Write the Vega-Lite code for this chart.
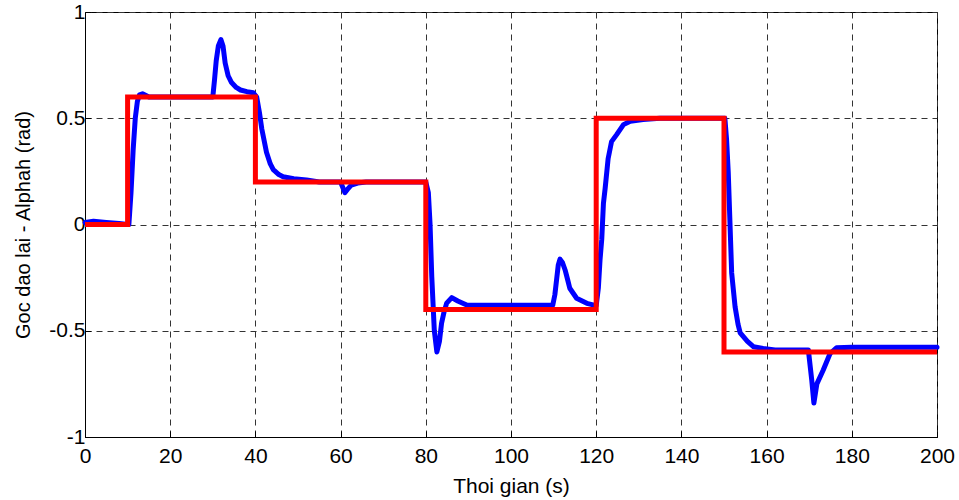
{
  "$schema": "https://vega.github.io/schema/vega-lite/v6.json",
  "autosize": {"type": "none"},
  "padding": {"left": 85, "top": 12, "right": 22, "bottom": 63},
  "width": 852,
  "height": 425,
  "background": "white",
  "config": {
    "view": {"stroke": "black", "strokeWidth": 1},
    "font": "Liberation Sans"
  },
  "datasets": {
    "response": [
      {"t": 0, "v": 0.01}, {"t": 2, "v": 0.015}, {"t": 5, "v": 0.01}, {"t": 8, "v": 0.005},
      {"t": 10, "v": 0.0}, {"t": 10.3, "v": 0.0}, {"t": 10.8, "v": 0.15}, {"t": 11.3, "v": 0.35},
      {"t": 11.8, "v": 0.5}, {"t": 12.3, "v": 0.58}, {"t": 12.8, "v": 0.61}, {"t": 13.5, "v": 0.615},
      {"t": 15, "v": 0.6}, {"t": 20, "v": 0.6}, {"t": 30, "v": 0.6}, {"t": 30.4, "v": 0.68},
      {"t": 30.8, "v": 0.77}, {"t": 31.3, "v": 0.84}, {"t": 31.9, "v": 0.87}, {"t": 32.4, "v": 0.84},
      {"t": 32.9, "v": 0.76}, {"t": 33.6, "v": 0.7}, {"t": 34.4, "v": 0.668}, {"t": 35.5, "v": 0.645},
      {"t": 36.5, "v": 0.633}, {"t": 38, "v": 0.625}, {"t": 39.5, "v": 0.62}, {"t": 40.3, "v": 0.6},
      {"t": 41, "v": 0.52}, {"t": 41.5, "v": 0.45}, {"t": 42.6, "v": 0.34}, {"t": 43.5, "v": 0.285},
      {"t": 44.2, "v": 0.258}, {"t": 45.5, "v": 0.235}, {"t": 46.5, "v": 0.225}, {"t": 49, "v": 0.215},
      {"t": 52, "v": 0.21}, {"t": 55, "v": 0.2}, {"t": 60, "v": 0.2}, {"t": 60.5, "v": 0.175},
      {"t": 61, "v": 0.15}, {"t": 61.6, "v": 0.165}, {"t": 62.5, "v": 0.185}, {"t": 64, "v": 0.195},
      {"t": 66, "v": 0.2}, {"t": 80, "v": 0.2}, {"t": 80.6, "v": 0.15}, {"t": 81.0, "v": 0.0},
      {"t": 81.4, "v": -0.245}, {"t": 82.0, "v": -0.5}, {"t": 82.6, "v": -0.6}, {"t": 83.2, "v": -0.55},
      {"t": 83.7, "v": -0.465}, {"t": 84.3, "v": -0.41}, {"t": 84.9, "v": -0.37}, {"t": 86.1, "v": -0.344},
      {"t": 87.5, "v": -0.36}, {"t": 89.6, "v": -0.379}, {"t": 95, "v": -0.38}, {"t": 109.8, "v": -0.38},
      {"t": 110.3, "v": -0.33}, {"t": 110.7, "v": -0.26}, {"t": 111.1, "v": -0.19}, {"t": 111.5, "v": -0.163},
      {"t": 112.1, "v": -0.18}, {"t": 112.7, "v": -0.214}, {"t": 113.3, "v": -0.26}, {"t": 113.8, "v": -0.3},
      {"t": 115.4, "v": -0.347}, {"t": 117.8, "v": -0.371}, {"t": 120, "v": -0.382}, {"t": 120.5, "v": -0.3},
      {"t": 120.9, "v": -0.166}, {"t": 121.3, "v": -0.07}, {"t": 121.7, "v": 0.1}, {"t": 122.1, "v": 0.17},
      {"t": 122.8, "v": 0.31}, {"t": 123.6, "v": 0.39}, {"t": 124.8, "v": 0.423}, {"t": 126.4, "v": 0.47},
      {"t": 128, "v": 0.486}, {"t": 131, "v": 0.494}, {"t": 135, "v": 0.5}, {"t": 150.2, "v": 0.5},
      {"t": 150.6, "v": 0.4}, {"t": 151, "v": 0.244}, {"t": 151.4, "v": 0.008}, {"t": 151.8, "v": -0.228},
      {"t": 152.6, "v": -0.387}, {"t": 153.3, "v": -0.47}, {"t": 153.8, "v": -0.51}, {"t": 154.9, "v": -0.536},
      {"t": 155.5, "v": -0.55}, {"t": 156.9, "v": -0.575}, {"t": 159.2, "v": -0.583}, {"t": 162, "v": -0.59},
      {"t": 169.8, "v": -0.59}, {"t": 170.6, "v": -0.733}, {"t": 171.1, "v": -0.84}, {"t": 171.8, "v": -0.75},
      {"t": 173.3, "v": -0.685}, {"t": 174.9, "v": -0.607}, {"t": 176.4, "v": -0.58}, {"t": 180, "v": -0.578},
      {"t": 200, "v": -0.578}
    ],
    "reference": [
      {"t": 0, "v": 0}, {"t": 10, "v": 0.6}, {"t": 40, "v": 0.2}, {"t": 80, "v": -0.4},
      {"t": 120, "v": 0.5}, {"t": 150, "v": -0.6}, {"t": 200, "v": -0.6}
    ]
  },
  "encoding": {
    "x": {
      "field": "t", "type": "quantitative",
      "scale": {"domain": [0, 200], "nice": false, "zero": false},
      "axis": {
        "title": "Thoi gian (s)",
        "values": [0, 20, 40, 60, 80, 100, 120, 140, 160, 180, 200],
        "grid": true, "gridColor": "#333", "gridDash": [6, 5], "gridOpacity": 1, "gridWidth": 1,
        "domainColor": "black", "tickColor": "black", "tickSize": -6,
        "labelFontSize": 21, "labelColor": "black", "labelPadding": 14, "labelFlush": false,
        "labelExpr": "datum.value + ''",
        "titleFontSize": 21, "titleFontWeight": "normal", "titleColor": "black",
        "titleY": 55, "titleBaseline": "alphabetic"
      }
    },
    "y": {
      "field": "v", "type": "quantitative",
      "scale": {"domain": [-1, 1], "nice": false, "zero": false},
      "axis": {
        "title": "Goc dao lai - Alphah (rad)",
        "values": [-1, -0.5, 0, 0.5, 1],
        "grid": true, "gridColor": "#333", "gridDash": [6, 5], "gridOpacity": 1, "gridWidth": 1,
        "domainColor": "black", "tickColor": "black", "tickSize": -6,
        "labelFontSize": 21, "labelColor": "black", "labelPadding": 6, "labelFlush": false,
        "labelExpr": "datum.value + ''",
        "titleFontSize": 20, "titleFontWeight": "normal", "titleColor": "black",
        "titleX": -62, "titleY": 212.5, "titleAngle": -90, "titleBaseline": "middle", "titleAlign": "center"
      }
    }
  },
  "layer": [
    {
      "data": {"name": "response"},
      "mark": {"type": "line", "color": "#0000ff", "strokeWidth": 5, "strokeJoin": "round", "strokeCap": "round"}
    },
    {
      "data": {"name": "reference"},
      "mark": {"type": "line", "color": "#ff0000", "strokeWidth": 5, "interpolate": "step-after", "strokeJoin": "miter"}
    }
  ]
}
